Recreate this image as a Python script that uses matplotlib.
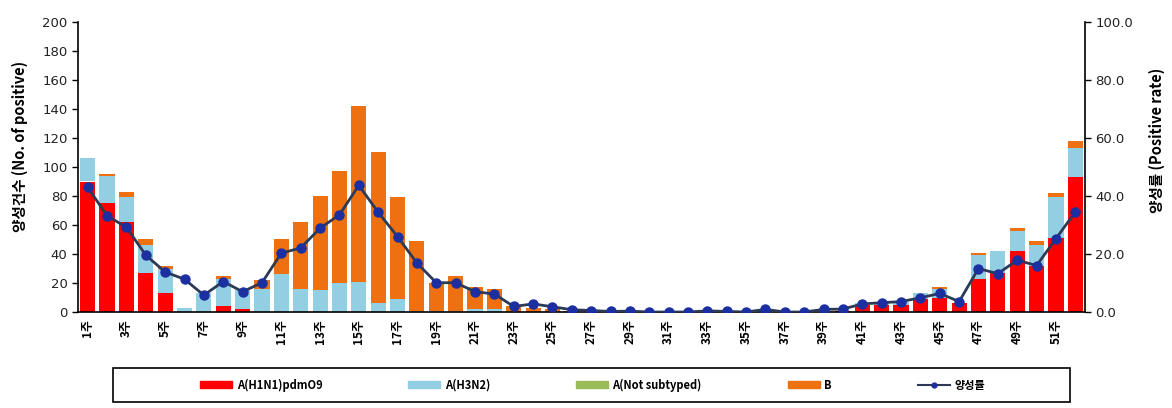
import matplotlib
matplotlib.use("Agg")
import matplotlib.pyplot as plt
import numpy as np
from matplotlib.patches import Rectangle, Patch
from matplotlib.lines import Line2D

weeks = [f"{i}주" for i in range(1, 53)]

h1n1 = [90, 75, 62, 27, 13, 0, 0, 4, 2, 0,
        0, 0, 0, 0, 0, 0, 0, 0, 0, 0,
        0, 0, 0, 0, 0, 0, 0, 0, 0, 0,
        0, 0, 0, 0, 0, 0, 0, 0, 0, 1,
        5, 5, 5, 9, 10, 6, 23, 27, 42, 32,
        51, 93]
h3n2 = [16, 19, 17, 19, 17, 3, 13, 19, 13, 16,
        26, 16, 15, 20, 21, 6, 9, 1, 1, 1,
        2, 2, 0, 0, 0, 0, 0, 0, 0, 0,
        0, 0, 0, 0, 0, 0, 0, 0, 0, 0,
        1, 1, 2, 4, 6, 0, 16, 15, 14, 14,
        28, 20]
not_subtyped = [0] * 52
flu_b = [0, 1, 4, 4, 2, 0, 0, 2, 0, 6,
         24, 46, 65, 77, 121, 104, 70, 48, 19, 24,
         15, 14, 4, 3, 2, 1, 1, 0, 0, 0,
         0, 0, 0, 0, 0, 0, 0, 0, 0, 0,
         0, 0, 0, 0, 1, 0, 2, 0, 2, 3,
         3, 5]
pos_rate = [43.0, 33.2, 29.2, 19.6, 13.8, 11.3, 5.8, 10.5, 7.0, 10.1,
            20.3, 22.1, 28.9, 33.5, 43.7, 34.4, 26.0, 16.9, 10.1, 10.1,
            7.0, 6.2, 1.9, 2.8, 1.8, 0.8, 0.5, 0.2, 0.3, 0.0,
            0.0, 0.0, 0.4, 0.2, 0.0, 0.9, 0.0, 0.0, 0.9, 1.0,
            2.8, 3.2, 3.6, 4.9, 6.4, 3.6, 15.0, 13.2, 17.9, 16.0,
            25.3, 34.5]

left_ticks = list(range(0, 201, 20))
right_ticks = [0, 20, 40, 60, 80, 100]

c_red = "#ff0000"
c_blue = "#92cfe3"
c_green = "#9bbb59"
c_orange = "#ef7010"
c_line = "#2c3a55"
c_marker = "#1c2fa0"

kfont = ["Noto Sans CJK KR", "DejaVu Sans"]
plt.rcParams['font.family'] = kfont

W, H = 1172, 408
fig = plt.figure(figsize=(W / 100, H / 100), dpi=100)
ax = fig.add_axes([78 / W, 1 - 312 / H, (1085 - 78) / W, (312 - 22) / H])

x = np.arange(len(weeks))
bw = 0.78
b1 = np.array(h1n1)
b2 = np.array(h3n2)
b3 = np.array(not_subtyped)
b4 = np.array(flu_b)
ax.bar(x, b1, bw, color=c_red, zorder=2)
ax.bar(x, b2, bw, bottom=b1, color=c_blue, zorder=2)
ax.bar(x, b3, bw, bottom=b1 + b2, color=c_green, zorder=2)
ax.bar(x, b4, bw, bottom=b1 + b2 + b3, color=c_orange, zorder=2)

ax.set_xlim(-0.5, len(weeks) - 0.5)
ax.set_ylim(0, 200)
ax.set_yticks(left_ticks)
ax.set_yticklabels([str(t) for t in left_ticks], fontsize=9.5, family=["DejaVu Sans"], color="#222222")
ax.set_xticks(x[::2])
ax.set_xticklabels(weeks[::2], rotation=90, fontsize=8.5, fontweight="bold", family=kfont)
ax.tick_params(axis="x", length=0, pad=5)
ax.tick_params(axis="y", length=4, direction="out", width=1)
ax.spines["top"].set_visible(False)
ax.spines["right"].set_visible(False)
for s in ["left", "bottom"]:
    ax.spines[s].set_linewidth(1.2)
    ax.spines[s].set_color("black")

ax2 = ax.twinx()
ax2.plot(x, pos_rate, color=c_line, linewidth=2, marker="o", markersize=6.5,
         markerfacecolor=c_marker, markeredgecolor=c_marker, zorder=5)
ax2.set_ylim(0, 100)
ax2.set_yticks(right_ticks)
ax2.set_yticklabels([f"{t:.1f}" for t in right_ticks], fontsize=9.5, family=["DejaVu Sans"], color="#222222")
ax2.tick_params(axis="y", length=4, direction="out", width=1)
for s in ["top", "left", "bottom"]:
    ax2.spines[s].set_visible(False)
ax2.spines["right"].set_linewidth(1.2)

fig.text(20 / W, 1 - 146 / H, "양성건수 (No. of positive)", rotation=90, ha="center", va="center",
         fontsize=10.5, fontweight="bold", family=kfont)
fig.text(1157 / W, 1 - 140 / H, "양성률 (Positive rate)", rotation=90, ha="center", va="center",
         fontsize=10.5, fontweight="bold", family=kfont)

# legend frame
fig.patches.append(Rectangle((113 / W, 1 - 402 / H), (1070 - 113) / W, (402 - 368) / H,
                             transform=fig.transFigure, fill=False, edgecolor="black",
                             linewidth=1.2, zorder=0))
handles = [Patch(color=c_red), Patch(color=c_blue), Patch(color=c_green), Patch(color=c_orange),
           Line2D([0], [0], color=c_line, linewidth=1.5, marker="o", markersize=3.5,
                  markerfacecolor=c_marker, markeredgecolor=c_marker)]
labels = ["A(H1N1)pdmO9", "A(H3N2)", "A(Not subtyped)", "B", "양성률"]
leg = fig.legend(handles, labels, loc="center", ncol=5, mode="expand", frameon=False,
                 bbox_to_anchor=(200 / W, 1 - 400 / H, (985 - 200) / W, 30 / H),
                 bbox_transform=fig.transFigure, handlelength=2.9, handleheight=0.6,
                 handletextpad=0.4, borderaxespad=0, borderpad=0,
                 prop={"family": kfont, "size": 8, "weight": "bold"})

fig.savefig("out.png", dpi=100)
